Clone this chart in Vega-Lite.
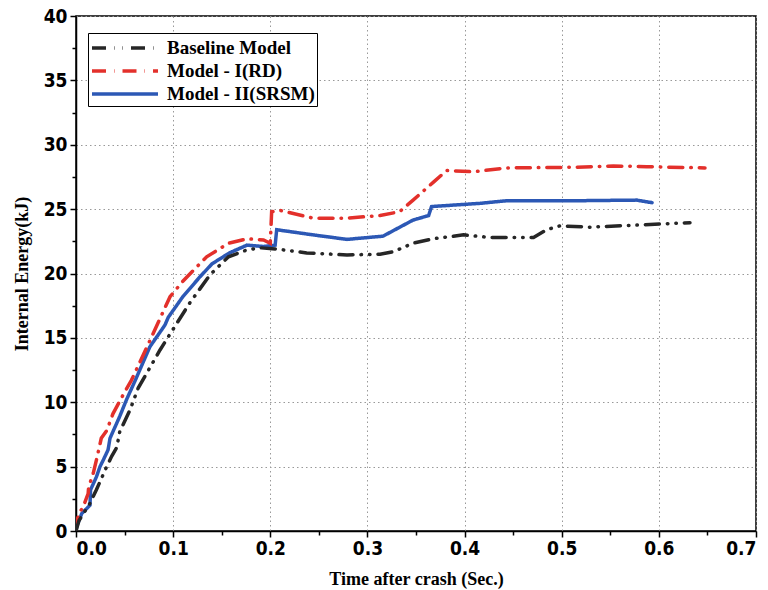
{
  "$schema": "https://vega.github.io/schema/vega-lite/v6.json",
  "width": 680,
  "height": 515,
  "autosize": {"type": "none"},
  "padding": {"left": 76, "top": 16, "right": 12, "bottom": 59},
  "background": "white",
  "config": {
    "view": {"stroke": "black", "strokeWidth": 1.5},
    "axis": {
      "domainColor": "black",
      "domainWidth": 1.5,
      "tickColor": "black",
      "tickWidth": 1.5,
      "labelFont": "Liberation Sans Narrow, DejaVu Sans Condensed, sans-serif",
      "labelFontWeight": "bold",
      "labelFontSize": 19,
      "labelColor": "black",
      "titleFont": "Liberation Serif",
      "titleFontWeight": "bold",
      "titleFontSize": 18,
      "titleColor": "black",
      "gridColor": "#999999",
      "gridDash": [1.5, 3],
      "gridWidth": 1
    },
    "legend": {
      "labelFont": "Liberation Serif",
      "labelFontWeight": "bold",
      "labelFontSize": 19,
      "labelColor": "black"
    }
  },
  "data": {
    "values": [
      {"series": "Model - II(SRSM)", "t": 0, "e": 0},
      {"series": "Model - II(SRSM)", "t": 0.0007, "e": 0.35},
      {"series": "Model - II(SRSM)", "t": 0.006, "e": 1.37},
      {"series": "Model - II(SRSM)", "t": 0.0144, "e": 2.0},
      {"series": "Model - II(SRSM)", "t": 0.015, "e": 3.2},
      {"series": "Model - II(SRSM)", "t": 0.021, "e": 4.2},
      {"series": "Model - II(SRSM)", "t": 0.0247, "e": 5.0},
      {"series": "Model - II(SRSM)", "t": 0.028, "e": 5.5},
      {"series": "Model - II(SRSM)", "t": 0.033, "e": 6.3},
      {"series": "Model - II(SRSM)", "t": 0.035, "e": 7.2},
      {"series": "Model - II(SRSM)", "t": 0.045, "e": 8.9},
      {"series": "Model - II(SRSM)", "t": 0.052, "e": 10.2},
      {"series": "Model - II(SRSM)", "t": 0.061, "e": 11.7},
      {"series": "Model - II(SRSM)", "t": 0.076, "e": 14.3},
      {"series": "Model - II(SRSM)", "t": 0.0916, "e": 16.0},
      {"series": "Model - II(SRSM)", "t": 0.095, "e": 16.6},
      {"series": "Model - II(SRSM)", "t": 0.11, "e": 18.2},
      {"series": "Model - II(SRSM)", "t": 0.1277, "e": 19.75},
      {"series": "Model - II(SRSM)", "t": 0.14, "e": 20.75},
      {"series": "Model - II(SRSM)", "t": 0.158, "e": 21.6},
      {"series": "Model - II(SRSM)", "t": 0.176, "e": 22.2},
      {"series": "Model - II(SRSM)", "t": 0.193, "e": 22.1},
      {"series": "Model - II(SRSM)", "t": 0.205, "e": 22.2},
      {"series": "Model - II(SRSM)", "t": 0.2066, "e": 23.4},
      {"series": "Model - II(SRSM)", "t": 0.244, "e": 23.0},
      {"series": "Model - II(SRSM)", "t": 0.279, "e": 22.65},
      {"series": "Model - II(SRSM)", "t": 0.316, "e": 22.9},
      {"series": "Model - II(SRSM)", "t": 0.347, "e": 24.15},
      {"series": "Model - II(SRSM)", "t": 0.363, "e": 24.5},
      {"series": "Model - II(SRSM)", "t": 0.366, "e": 25.2},
      {"series": "Model - II(SRSM)", "t": 0.416, "e": 25.45},
      {"series": "Model - II(SRSM)", "t": 0.443, "e": 25.65},
      {"series": "Model - II(SRSM)", "t": 0.512, "e": 25.65},
      {"series": "Model - II(SRSM)", "t": 0.577, "e": 25.7},
      {"series": "Model - II(SRSM)", "t": 0.593, "e": 25.5},

      {"series": "Model - I(RD)", "t": 0, "e": 0},
      {"series": "Model - I(RD)", "t": 0.001, "e": 0.85},
      {"series": "Model - I(RD)", "t": 0.004, "e": 1.5},
      {"series": "Model - I(RD)", "t": 0.007, "e": 1.8},
      {"series": "Model - I(RD)", "t": 0.0125, "e": 2.9},
      {"series": "Model - I(RD)", "t": 0.013, "e": 3.4},
      {"series": "Model - I(RD)", "t": 0.0178, "e": 4.5},
      {"series": "Model - I(RD)", "t": 0.021, "e": 5.5},
      {"series": "Model - I(RD)", "t": 0.026, "e": 7.2},
      {"series": "Model - I(RD)", "t": 0.0316, "e": 7.8},
      {"series": "Model - I(RD)", "t": 0.038, "e": 9.1},
      {"series": "Model - I(RD)", "t": 0.0487, "e": 10.6},
      {"series": "Model - I(RD)", "t": 0.057, "e": 11.7},
      {"series": "Model - I(RD)", "t": 0.078, "e": 15.1},
      {"series": "Model - I(RD)", "t": 0.0968, "e": 18.2},
      {"series": "Model - I(RD)", "t": 0.11, "e": 19.4},
      {"series": "Model - I(RD)", "t": 0.1345, "e": 21.3},
      {"series": "Model - I(RD)", "t": 0.157, "e": 22.35},
      {"series": "Model - I(RD)", "t": 0.176, "e": 22.7},
      {"series": "Model - I(RD)", "t": 0.193, "e": 22.6},
      {"series": "Model - I(RD)", "t": 0.2, "e": 22.35},
      {"series": "Model - I(RD)", "t": 0.2014, "e": 24.8},
      {"series": "Model - I(RD)", "t": 0.21, "e": 24.9},
      {"series": "Model - I(RD)", "t": 0.244, "e": 24.3},
      {"series": "Model - I(RD)", "t": 0.279, "e": 24.3},
      {"series": "Model - I(RD)", "t": 0.313, "e": 24.5},
      {"series": "Model - I(RD)", "t": 0.333, "e": 24.8},
      {"series": "Model - I(RD)", "t": 0.347, "e": 25.7},
      {"series": "Model - I(RD)", "t": 0.368, "e": 27.1},
      {"series": "Model - I(RD)", "t": 0.3816, "e": 28.0},
      {"series": "Model - I(RD)", "t": 0.409, "e": 27.9},
      {"series": "Model - I(RD)", "t": 0.443, "e": 28.2},
      {"series": "Model - I(RD)", "t": 0.512, "e": 28.25},
      {"series": "Model - I(RD)", "t": 0.553, "e": 28.35},
      {"series": "Model - I(RD)", "t": 0.5875, "e": 28.3},
      {"series": "Model - I(RD)", "t": 0.6475, "e": 28.2},

      {"series": "Baseline Model", "t": 0, "e": 0},
      {"series": "Baseline Model", "t": 0.003, "e": 0.8},
      {"series": "Baseline Model", "t": 0.0144, "e": 2.15},
      {"series": "Baseline Model", "t": 0.021, "e": 3.2},
      {"series": "Baseline Model", "t": 0.0316, "e": 5.0},
      {"series": "Baseline Model", "t": 0.0367, "e": 5.8},
      {"series": "Baseline Model", "t": 0.042, "e": 6.5},
      {"series": "Baseline Model", "t": 0.045, "e": 7.7},
      {"series": "Baseline Model", "t": 0.0556, "e": 9.4},
      {"series": "Baseline Model", "t": 0.064, "e": 11.1},
      {"series": "Baseline Model", "t": 0.0865, "e": 14.06},
      {"series": "Baseline Model", "t": 0.0985, "e": 15.5},
      {"series": "Baseline Model", "t": 0.117, "e": 17.7},
      {"series": "Baseline Model", "t": 0.138, "e": 19.9},
      {"series": "Baseline Model", "t": 0.157, "e": 21.3},
      {"series": "Baseline Model", "t": 0.175, "e": 21.8},
      {"series": "Baseline Model", "t": 0.189, "e": 22.0},
      {"series": "Baseline Model", "t": 0.2066, "e": 21.9},
      {"series": "Baseline Model", "t": 0.2375, "e": 21.6},
      {"series": "Baseline Model", "t": 0.279, "e": 21.44},
      {"series": "Baseline Model", "t": 0.313, "e": 21.5},
      {"series": "Baseline Model", "t": 0.327, "e": 21.7},
      {"series": "Baseline Model", "t": 0.347, "e": 22.35},
      {"series": "Baseline Model", "t": 0.368, "e": 22.7},
      {"series": "Baseline Model", "t": 0.399, "e": 23.0},
      {"series": "Baseline Model", "t": 0.426, "e": 22.8},
      {"series": "Baseline Model", "t": 0.471, "e": 22.8},
      {"series": "Baseline Model", "t": 0.4845, "e": 23.4},
      {"series": "Baseline Model", "t": 0.498, "e": 23.7},
      {"series": "Baseline Model", "t": 0.529, "e": 23.6},
      {"series": "Baseline Model", "t": 0.58, "e": 23.77},
      {"series": "Baseline Model", "t": 0.632, "e": 23.95}
    ]
  },
  "mark": {"type": "line", "strokeWidth": 3.5, "strokeCap": "round", "clip": true},
  "encoding": {
    "x": {
      "field": "t",
      "type": "quantitative",
      "title": "Time after crash (Sec.)",
      "scale": {"domain": [0, 0.7], "nice": false},
      "axis": {
        "values": [0, 0.05, 0.1, 0.15, 0.2, 0.25, 0.3, 0.35, 0.4, 0.45, 0.5, 0.55, 0.6, 0.65, 0.7],
        "labelExpr": "round(datum.value*100)%10==0 ? format(datum.value,'.1f') : ''",
        "gridOpacity": {"condition": {"test": "round(datum.value*100)%10==0", "value": 1}, "value": 0},
        "tickSize": {"condition": {"test": "round(datum.value*100)%10==0", "value": 6}, "value": 4},
        "labelPadding": 2,
        "titlePadding": 12
      }
    },
    "y": {
      "field": "e",
      "type": "quantitative",
      "title": "Internal Energy(kJ)",
      "scale": {"domain": [0, 40], "nice": false},
      "axis": {
        "values": [0, 2.5, 5, 7.5, 10, 12.5, 15, 17.5, 20, 22.5, 25, 27.5, 30, 32.5, 35, 37.5, 40],
        "labelExpr": "datum.value % 5 == 0 ? format(datum.value,'d') : ''",
        "gridOpacity": {"condition": {"test": "datum.value % 5 == 0", "value": 1}, "value": 0},
        "tickSize": {"condition": {"test": "datum.value % 5 == 0", "value": 6}, "value": 4},
        "labelPadding": 3,
        "titlePadding": 12
      }
    },
    "color": {
      "field": "series",
      "type": "nominal",
      "title": null,
      "scale": {
        "domain": ["Baseline Model", "Model - I(RD)", "Model - II(SRSM)"],
        "range": ["#262626", "#e3302b", "#2c58b5"]
      },
      "legend": {
        "orient": "none",
        "legendX": 12,
        "legendY": 17,
        "strokeColor": "black",
        "padding": 2,
        "symbolType": "M-1,0H5",
        "symbolStrokeWidth": 3.5,
        "symbolSize": 484,
        "symbolFillColor": "transparent",
        "rowPadding": 0,
        "labelOffset": 51,
        "fillColor": "white"
      }
    },
    "strokeDash": {
      "field": "series",
      "type": "nominal",
      "title": null,
      "scale": {
        "domain": ["Baseline Model", "Model - I(RD)", "Model - II(SRSM)"],
        "range": [[14, 8, 0.5, 8, 0.5, 8], [14, 8, 0.5, 8], [1, 0]]
      }
    }
  }
}
